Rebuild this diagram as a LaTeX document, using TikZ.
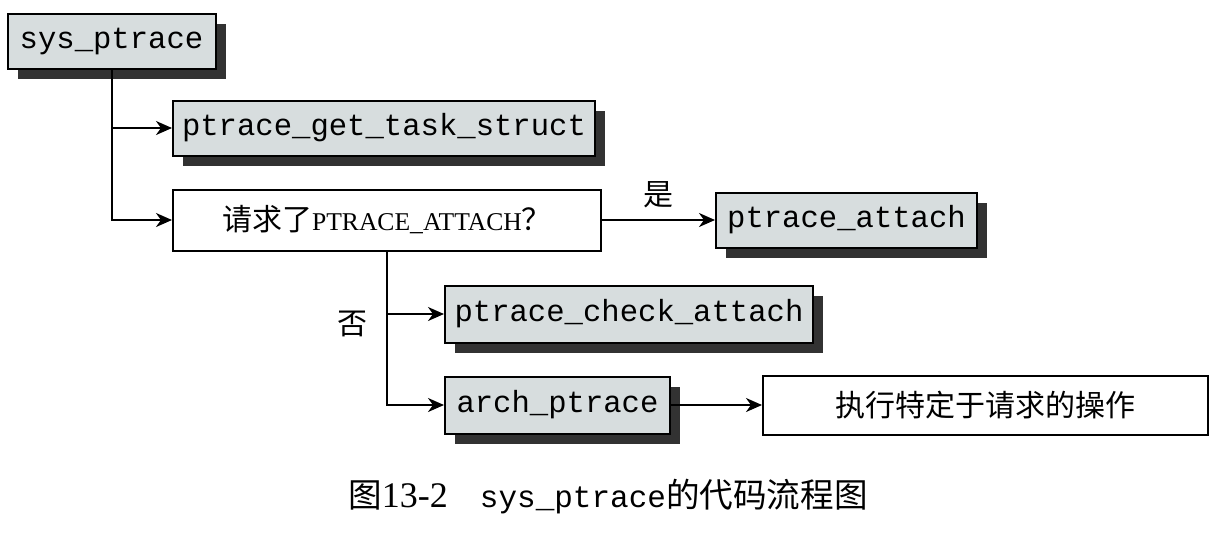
\documentclass[tikz,border=0pt]{standalone}
\usepackage{fontspec}
\setmainfont{Liberation Serif}
\setmonofont{Liberation Mono}
\newfontfamily\cjk{Noto Sans CJK SC}
\usepackage{tikz}
\usetikzlibrary{arrows.meta,positioning,shadows}
\definecolor{boxgray}{RGB}{215,221,222}
\definecolor{shadowgray}{RGB}{50,50,50}
\tikzset{
  func/.style={draw=black, line width=1pt, fill=boxgray, inner sep=0pt, align=center,
    font=\fontsize{15.3}{18}\selectfont\ttfamily,
    drop shadow={shadow xshift=5pt, shadow yshift=-5pt, fill=shadowgray, opacity=1}},
  plain/.style={draw=black, line width=1pt, fill=white, inner sep=0pt, align=center,
    font=\fontsize{15}{18}\selectfont\cjk},
  flow/.style={-{Stealth[length=8pt, width=7pt, inset=2.5pt]}, line width=1pt, draw=black},
  tag/.style={font=\fontsize{15}{18}\selectfont\cjk}
}

\begin{document}
\begin{tikzpicture}[x=0.5pt, y=-0.5pt]
  \useasboundingbox (0,0) rectangle (1226,532);

  \node[func, minimum width=104pt, minimum height=27.5pt] (sys) at (111.5,41) {sys\_ptrace};
  \node[func, minimum width=211pt, minimum height=27.5pt] (gettask) at (384,128) {ptrace\_get\_task\_struct};
  \node[plain, minimum width=214pt, minimum height=30.5pt] (ask) at (387,220)
    {请求了{\rmfamily\fontsize{12.8}{15}\selectfont PTRACE\_ATTACH}？};
  \node[func, minimum width=130.5pt, minimum height=27.5pt] (attach) at (846.5,220) {ptrace\_attach};
  \node[func, minimum width=184pt, minimum height=28.5pt] (check) at (629,314) {ptrace\_check\_attach};
  \node[func, minimum width=112.5pt, minimum height=28.5pt] (arch) at (557.5,405) {arch\_ptrace};
  \node[plain, minimum width=222.5pt, minimum height=29.5pt] (act) at (985.5,405) {执行特定于请求的操作};

  \draw[flow] (sys.south) |- (gettask.west);
  \draw[flow] (sys.south) |- (ask.west);
  \draw[flow] (ask) -- node[tag, above=2pt] {是} (attach);
  \draw[flow] (ask.south) |- node[tag, pos=0.5, left=6pt, yshift=-5pt] {否} (check.west);
  \draw[flow] (ask.south) |- (arch.west);
  \draw[flow] (arch) -- (act);

  % caption
  \node[inner sep=0pt] (caption) at (608,497)
    {{\cjk\fontsize{16.8}{20}\selectfont 图}{\fontsize{18}{20}\selectfont 13-2}\hspace{16pt}{\ttfamily\fontsize{15.5}{20}\selectfont sys\_ptrace}{\cjk\fontsize{16.8}{20}\selectfont 的代码流程图}};
\end{tikzpicture}
\end{document}
